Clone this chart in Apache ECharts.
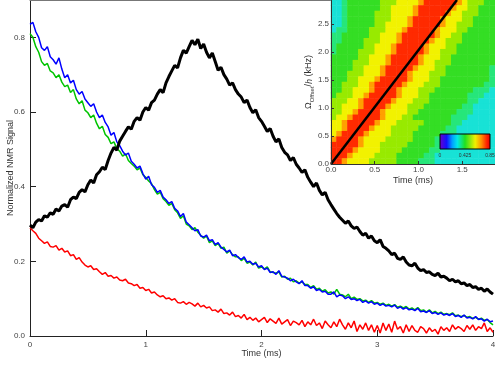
<!DOCTYPE html>
<html>
<head>
<meta charset="utf-8">
<script src="https://cdn.jsdelivr.net/npm/echarts@6/dist/echarts.min.js"></script>
<style>
  html, body { margin: 0; padding: 0; background: #fff; }
  #main { width: 495px; height: 368px; }
</style>
</head>
<body>
<div id="main"></div>
<script>
// sampling of the decay curves (ms)
const timeStep = 0.025;

const blackSignal = [
  0.297,0.290,0.305,0.312, 0.308,0.322,0.318,0.330, 0.326,0.340,0.335,0.348, 0.352,0.345,0.365,0.372,
  0.368,0.385,0.392,0.386, 0.405,0.418,0.410,0.432, 0.440,0.452,0.446,0.470, 0.490,0.505,0.498,0.522,
  0.535,0.548,0.560,0.554, 0.575,0.585,0.578,0.600, 0.612,0.605,0.625,0.632, 0.648,0.660,0.652,0.678,
  0.695,0.710,0.725,0.718, 0.745,0.765,0.758,0.775, 0.792,0.780,0.795,0.770, 0.782,0.760,0.745,0.758,
  0.735,0.712,0.720,0.700, 0.688,0.672,0.678,0.660, 0.648,0.640,0.625,0.632, 0.612,0.598,0.606,0.585,
  0.575,0.562,0.548,0.556, 0.535,0.520,0.528,0.505, 0.492,0.485,0.470,0.478, 0.460,0.450,0.438,0.445,
  0.425,0.412,0.400,0.410, 0.390,0.378,0.385,0.365, 0.352,0.340,0.328,0.318, 0.310,0.302,0.308,0.295,
  0.288,0.292,0.280,0.270, 0.275,0.262,0.268,0.255, 0.250,0.258,0.240,0.235, 0.228,0.218,0.222,0.208,
  0.205,0.212,0.198,0.190, 0.188,0.195,0.182,0.175, 0.178,0.170,0.172,0.165, 0.162,0.168,0.158,0.160,
  0.155,0.148,0.152,0.145, 0.148,0.140,0.142,0.135, 0.138,0.130,0.132,0.125, 0.128,0.120,0.126,0.118,
  0.112
];

const blueSignal = [
  0.835,0.840,0.815,0.800, 0.772,0.765,0.775,0.748, 0.740,0.728,0.745,0.715, 0.692,0.700,0.678,0.685,
  0.660,0.648,0.655,0.635, 0.625,0.615,0.622,0.600, 0.585,0.592,0.572,0.560, 0.538,0.545,0.520,0.510,
  0.495,0.485,0.490,0.468, 0.460,0.450,0.455,0.435, 0.420,0.428,0.405,0.398, 0.385,0.390,0.372,0.365,
  0.355,0.360,0.342,0.335, 0.320,0.328,0.305,0.298, 0.290,0.282,0.285,0.268, 0.265,0.270,0.255,0.258,
  0.245,0.250,0.238,0.232, 0.225,0.230,0.215,0.218, 0.210,0.205,0.212,0.198, 0.200,0.192,0.195,0.185,
  0.188,0.178,0.182,0.170, 0.172,0.165,0.175,0.160, 0.158,0.155,0.148,0.152, 0.145,0.140,0.148,0.135,
  0.135,0.128,0.132,0.122, 0.125,0.118,0.120,0.112, 0.112,0.118,0.105,0.110, 0.108,0.100,0.105,0.098,
  0.100,0.095,0.098,0.090, 0.094,0.088,0.092,0.085, 0.088,0.082,0.086,0.080, 0.082,0.078,0.083,0.074,
  0.078,0.072,0.076,0.070, 0.072,0.068,0.074,0.065, 0.067,0.063,0.068,0.060, 0.063,0.058,0.062,0.056,
  0.059,0.055,0.060,0.052, 0.055,0.050,0.056,0.048, 0.050,0.046,0.052,0.044, 0.046,0.040,0.045,0.038,
  0.040
];

const greenSignal = [
  0.810,0.800,0.775,0.760, 0.735,0.725,0.730,0.710, 0.705,0.692,0.700,0.680, 0.668,0.672,0.652,0.660,
  0.635,0.622,0.630,0.605, 0.598,0.585,0.592,0.570, 0.555,0.562,0.540,0.532, 0.515,0.520,0.502,0.495,
  0.482,0.488,0.470,0.462, 0.455,0.445,0.450,0.432, 0.425,0.415,0.408,0.392, 0.380,0.385,0.368,0.360,
  0.350,0.355,0.338,0.330, 0.315,0.322,0.300,0.295, 0.285,0.290,0.278,0.270, 0.262,0.268,0.250,0.255,
  0.242,0.248,0.235,0.238, 0.222,0.228,0.218,0.212, 0.212,0.202,0.208,0.195, 0.198,0.190,0.198,0.182,
  0.185,0.180,0.185,0.172, 0.170,0.168,0.172,0.158, 0.160,0.152,0.155,0.145, 0.148,0.142,0.145,0.138,
  0.138,0.130,0.135,0.125, 0.128,0.120,0.124,0.115, 0.118,0.112,0.125,0.112, 0.110,0.105,0.112,0.100,
  0.104,0.098,0.100,0.094, 0.096,0.090,0.095,0.088, 0.090,0.085,0.088,0.082, 0.085,0.080,0.084,0.077,
  0.080,0.075,0.079,0.072, 0.075,0.070,0.076,0.068, 0.070,0.064,0.070,0.062, 0.066,0.060,0.064,0.058,
  0.060,0.057,0.062,0.054, 0.056,0.052,0.055,0.050, 0.052,0.047,0.050,0.045, 0.048,0.042,0.044,0.036,
  0.030
];

const redSignal = [
  0.290,0.282,0.275,0.262, 0.255,0.248,0.252,0.240, 0.238,0.242,0.230,0.235, 0.225,0.228,0.215,0.218,
  0.205,0.210,0.198,0.190, 0.185,0.188,0.178,0.180, 0.172,0.165,0.170,0.160, 0.162,0.155,0.158,0.150,
  0.148,0.152,0.142,0.140, 0.135,0.138,0.128,0.130, 0.122,0.125,0.115,0.118, 0.110,0.105,0.108,0.100,
  0.102,0.096,0.100,0.090, 0.088,0.092,0.085,0.090, 0.086,0.080,0.088,0.078, 0.082,0.075,0.078,0.068,
  0.070,0.064,0.072,0.060, 0.062,0.056,0.064,0.052, 0.055,0.048,0.058,0.044, 0.050,0.042,0.048,0.038,
  0.044,0.050,0.036,0.046, 0.040,0.034,0.048,0.032, 0.038,0.044,0.028,0.040, 0.036,0.030,0.042,0.025,
  0.038,0.030,0.045,0.028, 0.035,0.020,0.040,0.030, 0.022,0.038,0.025,0.045, 0.030,0.018,0.035,0.022,
  0.040,0.012,0.030,0.018, 0.035,0.015,0.030,0.010, 0.028,0.008,0.035,0.015, 0.032,0.010,0.040,0.018,
  0.025,0.008,0.030,0.012, 0.028,0.015,0.010,0.025, 0.020,0.008,0.022,0.012, 0.018,0.005,0.025,0.015,
  0.022,0.012,0.030,0.018, 0.025,0.020,0.012,0.028, 0.018,0.030,0.015,0.025, 0.020,0.035,0.012,0.022,
  0.010
];

// inset map, top row first, one digit per cell (level index)
const heatRows = [
  '334555555666777789999998766655',
  '334555555667777899999987766555',
  '334555556667777899999877666555',
  '334555556667778999998777665555',
  '334555556677778999998776665555',
  '344555566677789999987776655555',
  '445555566777899999987766555555',
  '445555666777899999877666555555',
  '455555667778999998777665555555',
  '455556667778999998776665555555',
  '555556677789999987776655555555',
  '555566677789999987766655555555',
  '555566777899999877766555555554',
  '555666777899998777666555555554',
  '555667778999998777665555555554',
  '556667789999987776665555555544',
  '556677789999877766655555554443',
  '566677899999877766555555544433',
  '666778999998777666555555544333',
  '667778999987776665555555443333',
  '667789999877776655555554443333',
  '677899999877766555555544433333',
  '778999998777666665555544333333',
  '778999987776666655555443333333',
  '789999877776666555554443333333',
  '899998777766666555544433333333',
  '999998777666665555544333333333',
  '999987777666655555443333333333',
  '999877776666555554433333333333',
  '998777766666555544433333333333'
];
// value and colour of each level
const heatLevels = [0, 0.1, 0.2, 0.3, 0.4, 0.46, 0.54, 0.62, 0.7, 0.8];
const heatColors = ['#7000c8', '#1010ff', '#00a0ff', '#18e2d6', '#26e67a',
                    '#34de24', '#98ea00', '#f2f200', '#ffa000', '#ff2a00'];
const colorbarOffsets = [0, 0.14, 0.25, 0.35, 0.5, 0.7, 0.82, 0.93, 1];
const colorbarColors = ['#7000c8', '#1010ff', '#00a0ff', '#00e8e8', '#20e020',
                        '#f0f000', '#ff9000', '#ff2000', '#e00000'];
const colorbarTicks = ['0', '0.425', '0.85'];

const insetTimeMax = 1.875;
const insetFreqMax = 2.93;
const diagonal = [[0, 0], [1.44, 2.93]];

const toPairs = arr => arr.map((v, i) => [+(i * timeStep).toFixed(3), v]);

const nCols = heatRows[0].length;
const nRows = heatRows.length;
const heatData = [];
heatRows.forEach((row, k) => {
  const r = nRows - 1 - k;
  for (let c = 0; c < nCols; c++) heatData.push([c, r, heatLevels[+row[c]]]);
});
const colIdx = Array.from({length: nCols}, (_, i) => String(i));
const rowIdx = Array.from({length: nRows}, (_, i) => String(i));

const chart = echarts.init(document.getElementById('main'), null, {renderer: 'canvas'});

const labelColor = '#444';
const fontFamily = 'Liberation Sans, Arial, sans-serif';

const line = (name, data, color, width) => ({
  name, type: 'line', data: toPairs(data), xAxisIndex: 0, yAxisIndex: 0,
  showSymbol: false, symbol: 'none', lineStyle: {color, width}, itemStyle: {color}
});

const barText = (text, x) => ({
  type: 'text', x, y: 19, z: 101,
  style: {text, fontSize: 5, fill: '#333', align: 'center', fontFamily}
});

const option = {
  animation: false,
  backgroundColor: '#fff',
  textStyle: {fontFamily},
  grid: [
    {left: 30, right: 2, top: 0, bottom: 32, outerBoundsMode: 'none'},
    {left: 331, top: 0, width: 164, height: 164, outerBoundsMode: 'none'},
    {left: 331, top: 0, width: 164, height: 164, outerBoundsMode: 'none'}
  ],
  xAxis: [
    {
      gridIndex: 0, type: 'value', min: 0, max: 4, interval: 1,
      name: 'Time (ms)', nameLocation: 'middle', nameGap: 13, nameMoveOverlap: false,
      nameTextStyle: {fontSize: 9, color: '#333'},
      axisLine: {lineStyle: {color: '#222', width: 1}},
      axisTick: {inside: true, length: 6, lineStyle: {color: '#222'}},
      axisLabel: {fontSize: 8, color: labelColor, margin: 5},
      splitLine: {show: false}
    },
    {gridIndex: 1, type: 'category', data: colIdx, show: false},
    {
      gridIndex: 2, type: 'value', min: 0, max: insetTimeMax, interval: 0.5, z: 20,
      name: 'Time (ms)', nameLocation: 'middle', nameGap: 12, nameMoveOverlap: false,
      nameTextStyle: {fontSize: 9, color: '#333'},
      axisLine: {lineStyle: {color: '#333', width: 1}},
      axisTick: {inside: true, length: 3, lineStyle: {color: '#333'}},
      axisLabel: {fontSize: 8, color: labelColor, margin: 2, showMaxLabel: false,
                  formatter: v => v.toFixed(1)},
      splitLine: {show: false}
    },
    {
      gridIndex: 0, type: 'value', position: 'top', min: 0, max: 4,
      axisLine: {lineStyle: {color: '#777', width: 1}},
      axisTick: {show: false}, axisLabel: {show: false}, splitLine: {show: false}
    }
  ],
  yAxis: [
    {
      gridIndex: 0, type: 'value', min: 0, max: 0.9, interval: 0.2,
      name: 'Normalized NMR Signal', nameLocation: 'middle', nameGap: 15, nameMoveOverlap: false,
      nameTextStyle: {fontSize: 9, color: '#333'},
      axisLine: {lineStyle: {color: '#222', width: 1}},
      axisTick: {inside: true, length: 6, lineStyle: {color: '#222'}},
      axisLabel: {fontSize: 8, color: labelColor, margin: 5, showMaxLabel: false,
                  formatter: v => v.toFixed(1)},
      splitLine: {show: false}
    },
    {gridIndex: 1, type: 'category', data: rowIdx, show: false},
    {
      gridIndex: 2, type: 'value', min: 0, max: insetFreqMax, interval: 0.5, z: 20,
      name: '{n|Ω}{s|Offset}{n|/}{i|h}{n| (kHz)}', nameLocation: 'middle', nameGap: 16,
      nameMoveOverlap: false,
      nameTextStyle: {
        color: '#333',
        rich: {
          n: {fontSize: 9, color: '#333', lineHeight: 12},
          i: {fontSize: 9, color: '#333', fontStyle: 'italic', lineHeight: 12},
          s: {fontSize: 6, color: '#333', verticalAlign: 'bottom', lineHeight: 12, padding: [3, 0, 0, 0]}
        }
      },
      axisLine: {lineStyle: {color: '#333', width: 1}},
      axisTick: {inside: true, length: 3, lineStyle: {color: '#333'}},
      axisLabel: {fontSize: 8, color: labelColor, margin: 2, showMaxLabel: false,
                  formatter: v => v.toFixed(1)},
      splitLine: {show: false}
    }
  ],
  visualMap: {
    show: false, type: 'piecewise', seriesIndex: 4,
    pieces: heatLevels.map((v, i) => ({value: v, color: heatColors[i]}))
  },
  series: [
    line('red', redSignal, '#ff0000', 1.5),
    line('green', greenSignal, '#00c400', 1.5),
    line('blue', blueSignal, '#0000ff', 1.5),
    line('black', blackSignal, '#000000', 3),
    {
      type: 'heatmap', xAxisIndex: 1, yAxisIndex: 1, data: heatData, z: 5,
      itemStyle: {borderWidth: 0}, emphasis: {disabled: true}
    },
    {
      type: 'line', xAxisIndex: 2, yAxisIndex: 2, data: diagonal, z: 6,
      showSymbol: false, symbol: 'none', lineStyle: {color: '#000', width: 2.5}
    }
  ],
  graphic: [{
    type: 'group', x: 440, y: 134, z: 100,
    children: [
      {
        type: 'rect', z: 100, shape: {x: 0, y: 0, width: 50, height: 15},
        style: {
          fill: new echarts.graphic.LinearGradient(0, 0, 1, 0,
            colorbarColors.map((c, i) => ({offset: colorbarOffsets[i], color: c}))),
          stroke: '#000', lineWidth: 1
        }
      },
      barText(colorbarTicks[0], 0),
      barText(colorbarTicks[1], 25),
      barText(colorbarTicks[2], 50)
    ]
  }]
};

chart.setOption(option);
</script>
</body>
</html>
